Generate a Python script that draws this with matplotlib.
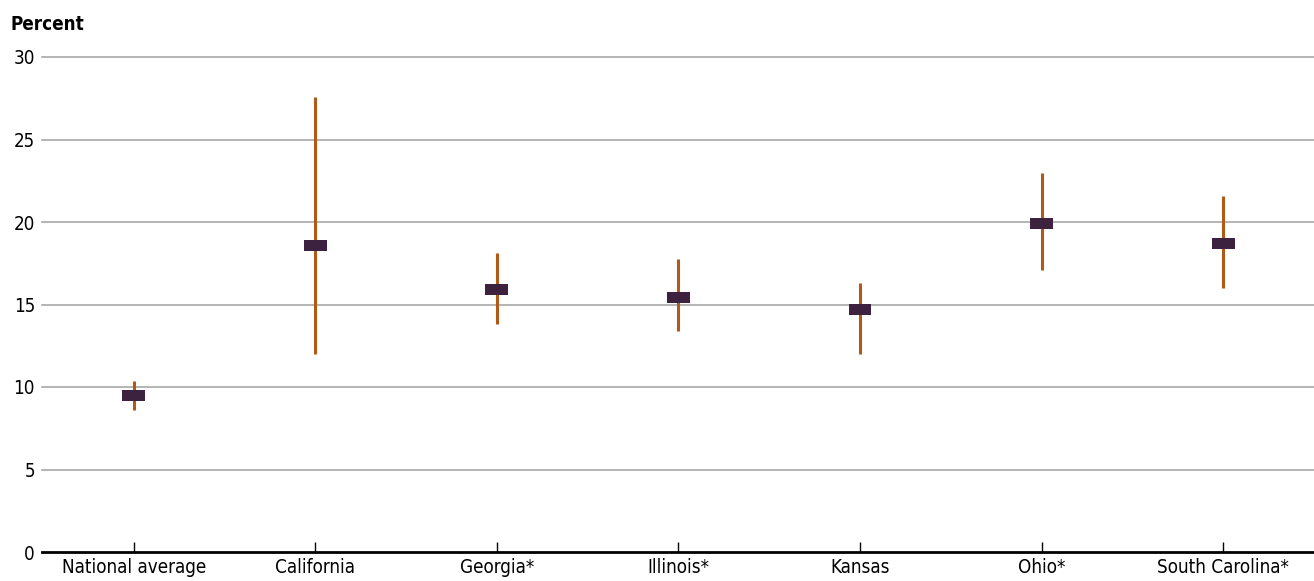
import matplotlib.pyplot as plt
from matplotlib import font_manager

states = ["National average", "California", "Georgia*", "Illinois*", "Kansas", "Ohio*", "South Carolina*"]
estimate = [9.5, 18.6, 15.9, 15.4, 14.7, 19.9, 18.7]
lower = [8.6, 12.0, 13.8, 13.4, 12.0, 17.1, 16.0]
upper = [10.35, 27.6, 18.1, 17.75, 16.3, 23.0, 21.6]
yticks = [0, 5, 10, 15, 20, 25, 30]

# condensed face if there is one
narrow = [f for f in font_manager.fontManager.ttflist
          if f.name == "Liberation Sans Narrow"]
if narrow:
    plt.rcParams["font.family"] = ["Liberation Sans Narrow", "DejaVu Sans"]
    stretch = "normal"
else:
    plt.rcParams["font.family"] = ["DejaVu Sans"]
    stretch = "condensed"
plt.rcParams["font.stretch"] = stretch

fig = plt.figure(figsize=(13.14, 5.81), dpi=100)
ax = fig.add_axes([42 / 1314, 29 / 581, 1 - 42 / 1314, (552 - 57) / 581])

x = list(range(len(states)))
ax.vlines(x, lower, upper, color="#B05A1A", lw=2.2, zorder=3)
for xi, e in zip(x, estimate):
    ax.add_patch(plt.Rectangle((xi - 0.063, e - 0.33), 0.126, 0.66,
                               color="#3D2240", zorder=4, lw=0))

ax.set_xlim(-0.505, 6.5)
ax.set_ylim(0, 30)
ax.set_yticks(yticks)
ax.set_yticklabels([str(t) for t in yticks], fontsize=13.5)
ax.set_xticks(x)
ax.set_xticklabels(states, fontsize=13.5)
ax.tick_params(axis="y", length=0, pad=5)
ax.tick_params(axis="x", direction="in", length=7, width=1, color="black", pad=4)
for t in yticks[1:]:
    ax.axhline(t, color="#A8A8A8", lw=1.2, zorder=0, clip_on=False)
for s in ["top", "right", "left"]:
    ax.spines[s].set_visible(False)
ax.spines["bottom"].set_linewidth(2)
ax.spines["bottom"].set_zorder(5)

fig.text(10 / 1314, 1 - 25 / 581, "Percent", fontsize=13.5, fontweight="bold", va="center")

fig.savefig("out.png", dpi=100)
